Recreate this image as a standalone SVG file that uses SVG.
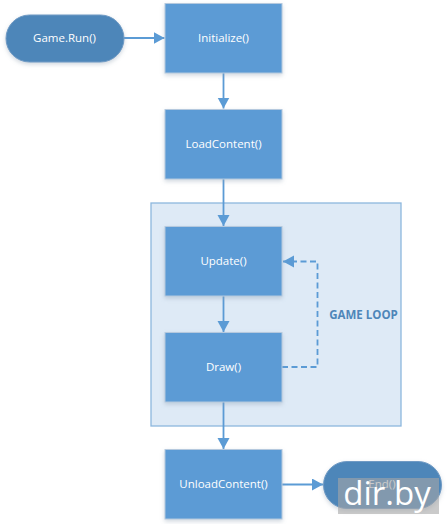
<svg xmlns="http://www.w3.org/2000/svg" width="447" height="524" viewBox="0 0 447 524">
<style>
.box{fill:#5b9bd5;stroke:#b5c9de;stroke-width:1}
.term{fill:#4e86b9;stroke:#6f9ac4;stroke-width:1}
.t{font-family:"Open Sans","DejaVu Sans",sans-serif;font-size:11.5px;fill:#fff;text-anchor:middle}
.c{fill:none;stroke:#5b9bd5;stroke-width:1.8}
</style>
<defs>
<marker id="a" markerUnits="userSpaceOnUse" markerWidth="13" markerHeight="13" refX="11" refY="6" orient="auto"><path d="M0,0L11,6L0,12Z" fill="#5b9bd5"/></marker>
<filter id="s" x="-10%" y="-10%" width="120%" height="125%"><feDropShadow dx="0" dy="2" stdDeviation="2" flood-color="#8a9bb0" flood-opacity=".4"/></filter>
</defs>
<rect width="447" height="524" fill="#fff"/>
<g id="game-loop">
<rect x="151" y="203" width="250" height="223" fill="#deeaf6" stroke="#8db7de" stroke-width="1.3"/>
<text x="363.500" y="319" font-family="'Open Sans','DejaVu Sans',sans-serif" font-size="11.500" font-weight="700" fill="#4e86b9" text-anchor="middle">GAME LOOP</text>
</g>
<g id="connectors">
<path class="c" d="M124,38H164.500" marker-end="url(#a)"/>
<path class="c" d="M223.500,73V108.500" marker-end="url(#a)"/>
<path class="c" d="M223.500,179V226" marker-end="url(#a)"/>
<path class="c" d="M223.500,296V332" marker-end="url(#a)"/>
<path class="c" d="M282,367H317.500V261.500H283" stroke-dasharray="6 3.500" marker-end="url(#a)"/>
<path class="c" d="M223.500,402V449" marker-end="url(#a)"/>
<path class="c" d="M282,484.500H323" marker-end="url(#a)"/>
</g>
<g id="game-run">
<rect class="term" x="6" y="15" width="118" height="47" rx="23.500" filter="url(#s)"/>
<text class="t" x="64.500" y="42">Game.Run()</text>
</g>
<g id="initialize">
<rect class="box" x="165" y="3.500" width="117" height="69.500" filter="url(#s)"/>
<text class="t" x="223.500" y="42">Initialize()</text>
</g>
<g id="load-content">
<rect class="box" x="165" y="109.500" width="117" height="69.500" filter="url(#s)"/>
<text class="t" x="223.500" y="148">LoadContent()</text>
</g>
<g id="update">
<rect class="box" x="165" y="226.500" width="117" height="69.500" filter="url(#s)"/>
<text class="t" x="223.500" y="265">Update()</text>
</g>
<g id="draw">
<rect class="box" x="165" y="332.500" width="117" height="69.500" filter="url(#s)"/>
<text class="t" x="223.500" y="371">Draw()</text>
</g>
<g id="unload-content">
<rect class="box" x="165" y="449.500" width="117" height="69.500" filter="url(#s)"/>
<text class="t" x="223.500" y="488">UnloadContent()</text>
</g>
<g id="end">
<rect class="term" x="323.500" y="461.500" width="118" height="47" rx="23.500" filter="url(#s)"/>
<text class="t" x="382" y="488">End()</text>
</g>
<g id="watermark">
<rect x="338" y="478" width="101" height="36" fill="#a6a6a6" fill-opacity=".6"/>
<text x="387" y="505" font-family="'Open Sans','Liberation Sans',sans-serif" font-size="33" fill="#fff" text-anchor="middle">dir.by</text>
</g>
</svg>
